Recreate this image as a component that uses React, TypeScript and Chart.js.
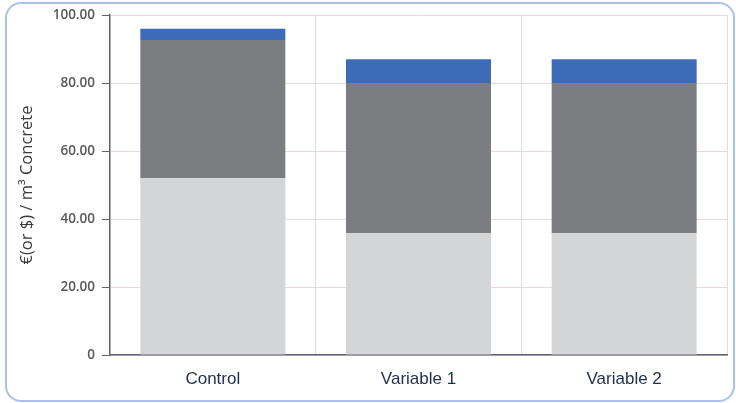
import React, { useEffect, useRef } from "react";
import { Chart, registerables } from "chart.js";

Chart.register(...registerables);

const categories = ["Control", "Variable 1", "Variable 2"];
const baseCost = [52.0, 35.8, 35.8];
const midCost = [40.7, 44.2, 44.2];
const topCost = [3.3, 7.0, 7.0];
const yTickStep = 20;
const yMax = 100;
const yTitle = "€(or $) / m³ Concrete";

export default function App() {
  const ref = useRef<HTMLCanvasElement | null>(null);

  useEffect(() => {
    if (!ref.current) return;
    const axisColor = "#5d6170";
    const gridColor = "#e6dbdb";
    const chart = new Chart(ref.current, {
      type: "bar",
      data: {
        labels: categories,
        datasets: [
          { label: "Base", data: baseCost, backgroundColor: "#d4d5d7" },
          { label: "Mid", data: midCost, backgroundColor: "#7c7d81" },
          { label: "Top", data: topCost, backgroundColor: "#3c6bb8" },
        ],
      },
      options: {
        responsive: false,
        animation: false,
        devicePixelRatio: 1,
        layout: { padding: { left: 14, top: 14, right: 9, bottom: 0 } },
        datasets: {
          bar: { barPercentage: 0.705, categoryPercentage: 1 },
        },
        plugins: {
          legend: { display: false },
          tooltip: { enabled: false },
        },
        scales: {
          x: {
            stacked: true,
            grid: { color: gridColor, offset: true, drawTicks: false },
            border: { color: axisColor, width: 1.5 },
            ticks: {
              padding: 14,
              color: "#1e2f4d",
              font: { family: "Liberation Sans", size: 17 },
            },
            afterFit: (s: any) => {
              s.height = 48;
            },
          },
          y: {
            stacked: true,
            min: 0,
            max: yMax,
            ticks: {
              stepSize: yTickStep,
              padding: 7,
              color: "#585858",
              font: { family: "Open Sans", size: 13.5, weight: 600 },
              callback: (v: any) => (Number(v) === 0 ? "0" : Number(v).toFixed(2)),
            },
            grid: { color: gridColor, tickColor: axisColor, tickLength: 8 },
            border: { color: axisColor, width: 1.5 },
            title: {
              display: true,
              text: yTitle,
              color: "#3a3a3a",
              font: { family: "Open Sans", size: 16.5 },
              padding: { top: 3, bottom: 0 },
            },
            afterFit: (s: any) => {
              s.width = 96;
            },
          },
        },
      },
    });
    return () => chart.destroy();
  }, []);

  return (
    <div style={{ position: "fixed", left: 0, top: 0, width: 736, height: 403, background: "#fff" }}>
      <canvas ref={ref} width={736} height={403} style={{ position: "absolute", left: 0, top: 0, width: 736, height: 403 }} />
      <div
        style={{
          position: "absolute",
          left: 5,
          top: 2,
          width: 726,
          height: 396,
          border: "2px solid #a9c2ea",
          borderRadius: 16,
          pointerEvents: "none",
        }}
      />
    </div>
  );
}
